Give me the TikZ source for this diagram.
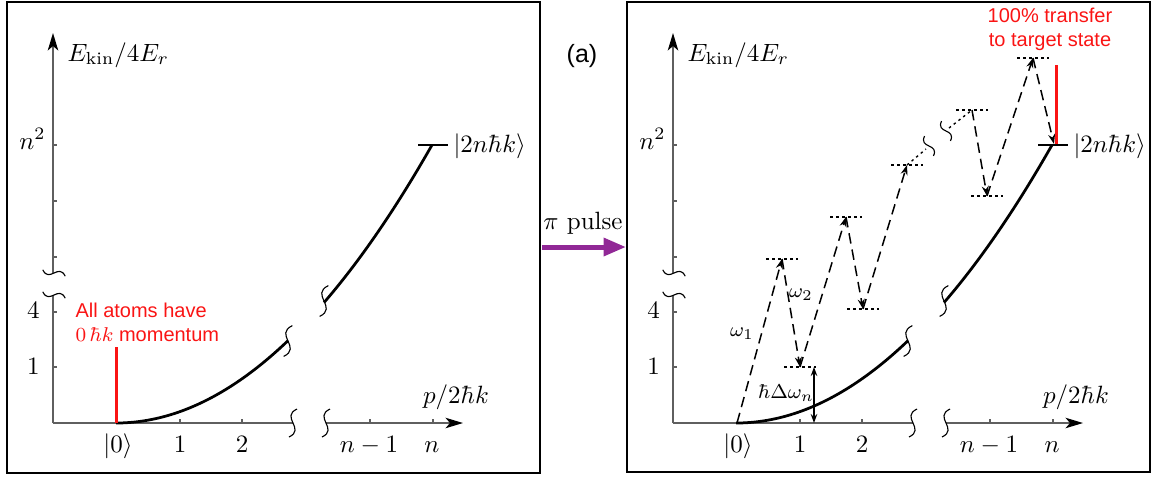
\documentclass[tikz,border=0pt]{standalone}
\usepackage{fontspec}
\newfontfamily\arialf{Liberation Sans}
\usetikzlibrary{arrows.meta}
\definecolor{pulsepurple}{RGB}{145,40,150}
\definecolor{axisgray}{RGB}{95,95,95}
\definecolor{annred}{RGB}{250,20,20}
\tikzset{
  brk/.pic={\draw[black,line width=0.45pt] (4,-14) .. controls (-13,-6) and (13,6) .. (-4,14);},
}
\newcommand\mypanel[1]{%
  \coordinate (#1o) at (53,423);
  \coordinate (#1ytop) at (53,33);
  \coordinate (#1ya) at (53,295);
  \coordinate (#1yb) at (53,273);
  \draw[axis] (#1o) -- (#1ya);
  \draw[axis,tip] (#1yb) -- (#1ytop);
  \pic[rotate=90,scale=0.8] at (54,273) {brk};
  \pic[rotate=90,scale=0.8] at (54,295) {brk};
  \foreach \yy in {145,201,257,312,367} {\draw[axis] (53,\yy) -- (57,\yy);}
  \coordinate (#1xa) at (293,423);
  \coordinate (#1xb) at (326,423);
  \coordinate (#1xtip) at (463,423);
  \draw[axis] (#1o) -- (#1xa);
  \draw[axis,tip] (#1xb) -- (#1xtip);
  \pic at (293,423) {brk};
  \pic at (326,423) {brk};
  \foreach \xx in {180,242,370,433} {\draw[axis] (\xx,423) -- (\xx,419);}
  \node[lab,anchor=base west] (#1ylab) at (67,61) {$E_{\mathrm{kin}}/4E_r$};
  \node[lab,anchor=base east] (#1n2) at (46,149) {$n^2$};
  \node[lab,anchor=base] (#1t4) at (33.5,318) {$4$};
  \node[lab,anchor=base] (#1t1) at (33.5,374) {$1$};
  \node[lab,anchor=base] (#1k0) at (118,452) {$|0\rangle$};
  \node[lab,anchor=base] (#1k1) at (180,452) {$1$};
  \node[lab,anchor=base] (#1k2) at (242,452) {$2$};
  \node[lab,anchor=base] (#1kn1) at (369,452) {$n-1$};
  \node[lab,anchor=base] (#1kn) at (432,452) {$n$};
  \node[lab,anchor=base] (#1xlab) at (456,403) {$p/2\hbar k$};
  \draw[curve] plot[domain=116:288,samples=50,smooth] (\x,{423-27.84*((\x-116)/100)^2});
  \draw[curve] plot[domain=324:432,samples=40,smooth] (\x,{423-27.84*((\x-116)/100)^2});
  \pic[scale=1.1] at (288,341) {brk};
  \pic[scale=1.1] at (324,301) {brk};
  \coordinate (#1la) at (418,145);
  \coordinate (#1lb) at (448,145);
  \draw[line width=0.65pt] (#1la) -- (#1lb);
  \node[lab,anchor=base west] (#1target) at (453,152) {$|2n\hbar k\rangle$};
}
\begin{document}
\begin{tikzpicture}[x=0.4pt,y=-0.4pt,
  axis/.style={draw=axisgray,line width=0.55pt},
  tip/.style={-{Stealth[length=7pt,width=4.2pt,inset=1.8pt,color=black]}},
  curve/.style={line width=1.1pt,black},
  redline/.style={draw=annred,line width=1.2pt},
  trans/.style={line width=0.6pt,dash pattern=on 4.2pt off 2.4pt,-{Stealth[length=4pt,width=2.8pt]}},
  level/.style={line width=0.55pt,dash pattern=on 1pt off 1.4pt},
  lab/.style={inner sep=0pt},
  redtxt/.style={text=annred,font=\arialf\fontsize{8}{9.6}\selectfont,inner sep=0pt},
  small/.style={font=\fontsize{8}{9.6}\selectfont,inner sep=0pt}
]
\useasboundingbox (0,0) rectangle (1155,476);
% frames
\draw[line width=0.7pt] (7,2) rectangle (540,473);
\draw[line width=0.7pt] (627,2) rectangle (1150,472);
% left panel
\mypanel{L}
\coordinate (Lr0) at (116,423);
\coordinate (Lr1) at (116,347);
\draw[redline] (Lr0) -- (Lr1);
\node[redtxt,align=left,anchor=base west] (Lt) at (75,341) {All atoms have\\$0\,\hbar k$ momentum};
% middle
\node[inner sep=0pt,font=\arialf,anchor=base] (lbla) at (582,62) {(a)};
\node[inner sep=0pt,anchor=base] (pil) at (583,229) {$\pi$ pulse};
\coordinate (pa) at (542,247);
\coordinate (pb) at (626,247);
\draw[line width=2pt,pulsepurple,-{Triangle[length=9pt,width=7pt]}] (pa) -- (pb);
% right panel
\begin{scope}[xshift=248pt]
\mypanel{R}
\end{scope}
\coordinate (Rr0) at (1056,144);
\coordinate (Rr1) at (1056,65);
\draw[redline] (Rr0) -- (Rr1);
\node[redtxt,align=center,anchor=base] (Rt) at (1050,46) {100\% transfer\\to target state};
% transitions
\coordinate (s0) at (737,423);
\coordinate (a1) at (782,259);
\coordinate (b1) at (800,367);
\coordinate (a2) at (846,217);
\coordinate (b2) at (863,309);
\coordinate (a3) at (907,165);
\coordinate (a4) at (972,110);
\coordinate (b4) at (987,196);
\coordinate (a5) at (1033,58);
\coordinate (tg) at (1054,144);
\foreach \c in {a1,b1,a2,b2,a3,a4,b4,a5} {\draw[level] (\c) ++(-16,0) -- ++(32,0);}
\draw[trans] (s0) -- (a1);
\draw[trans] (a1) -- (b1);
\draw[trans] (b1) -- (a2);
\draw[trans] (a2) -- (b2);
\draw[trans] (b2) -- (a3);
\draw[trans] (a4) -- (b4);
\draw[trans] (b4) -- (a5);
\draw[trans] (a5) -- (tg);
\coordinate (g1) at (926,149);
\coordinate (g2) at (949,128);
\draw[level] (a3) -- (g1);
\draw[level] (g2) -- (a4);
\pic[rotate=40,scale=0.75] at (929,146) {brk};
\pic[rotate=40,scale=0.75] at (946,131) {brk};
\coordinate (d1) at (814,367);
\coordinate (d2) at (814,423);
\draw[line width=0.5pt,{Stealth[length=3.6pt,width=2.6pt]}-{Stealth[length=3.6pt,width=2.6pt]}] (d1) -- (d2);
\node[small] (w1) at (742,334) {$\omega_1$};
\node[small] (w2) at (801,295) {$\omega_2$};
\node[small] (dw) at (786,393) {$\hbar\Delta\omega_n$};
\end{tikzpicture}
\end{document}
